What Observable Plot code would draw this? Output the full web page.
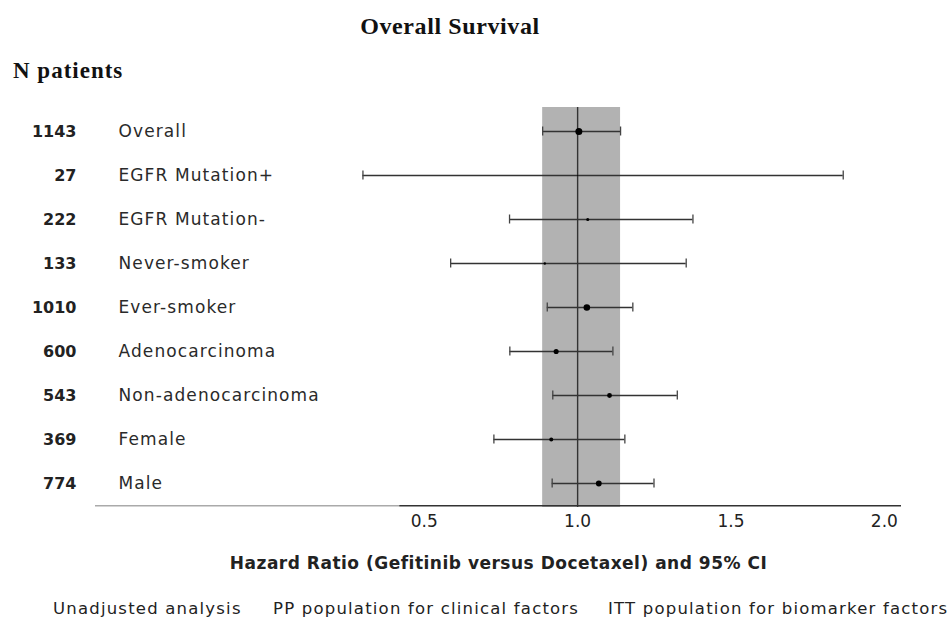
<!DOCTYPE html>
<html>
<head>
<meta charset="utf-8">
<script src="https://cdn.jsdelivr.net/npm/d3@7"></script>
<script src="https://cdn.jsdelivr.net/npm/@observablehq/plot@0.6"></script>
<style>
  body { margin: 0; background: #fff; }
  #wrap { position: relative; width: 947px; height: 626px; overflow: hidden; }
  #head { position: relative; height: 88px; }
  #title { position: absolute; left: 0; width: 900px; top: 13px; text-align: center;
           font: bold 24px "Liberation Serif", serif; letter-spacing: 0.6px; color: #111; }
  #npat { position: absolute; left: 13px; top: 58px; font: bold 23px "Liberation Serif", serif; letter-spacing: 1px; color: #111; }
  #legend { position: relative; height: 38px; font: 16.5px "DejaVu Sans", sans-serif; letter-spacing: 1.2px; color: #222; }
  #legend span { position: absolute; top: 11px; white-space: nowrap; }
  svg { display: block; }
</style>
</head>
<body>
<div id="wrap">
  <div id="head">
    <div id="title">Overall Survival</div>
    <div id="npat">N patients</div>
  </div>
  <div id="chart"></div>
  <div id="legend"></div>
</div>
<script>
const categories = ["Overall","EGFR Mutation+","EGFR Mutation-","Never-smoker","Ever-smoker","Adenocarcinoma","Non-adenocarcinoma","Female","Male"];
const nPatients = [1143, 27, 222, 133, 1010, 600, 543, 369, 774];
const hazardRatio = [1.004, 1.0, 1.033, 0.893, 1.03, 0.93, 1.104, 0.914, 1.069];
const ciLow = [0.886, 0.30, 0.778, 0.586, 0.901, 0.779, 0.919, 0.727, 0.917];
const ciHigh = [1.14, 1.866, 1.376, 1.354, 1.18, 1.115, 1.325, 1.154, 1.249];
const xTicks = [0.5, 1.0, 1.5, 2.0];
const legendItems = ["Unadjusted analysis", "PP population for clinical factors", "ITT population for biomarker factors"];
const xLabel = "Hazard Ratio (Gefitinib versus Docetaxel) and 95% CI";

const rows = categories.map((c, i) => ({label: c, n: nPatients[i], hr: hazardRatio[i], lo: ciLow[i], hi: ciHigh[i]}));
const band = [{lo: ciLow[0], hi: ciHigh[0]}];

const marginTop = 19, height = 500, marginBottom = 81;
const bandH = (height - marginTop - marginBottom) / categories.length;

const chart = Plot.plot({
  width: 947,
  height,
  marginLeft: 95,
  marginRight: 46,
  marginTop,
  marginBottom,
  style: {fontFamily: "DejaVu Sans, sans-serif", fontSize: "17px", color: "#222", background: "#fff"},
  x: {domain: [-0.572, 2.056], ticks: xTicks, tickFormat: d3.format(".1f"), tickSize: 0, tickPadding: 7,
      label: xLabel, labelAnchor: "center", labelOffset: 61, labelArrow: "none"},
  y: {domain: categories, padding: 0, axis: null},
  r: {domain: [0, 1143], range: [0, 3.5]},
  marks: [
    Plot.rect(band, {x1: "lo", x2: "hi", fill: "#b2b2b2"}),
    Plot.ruleX([1], {stroke: "#333", strokeWidth: 1.4}),
    Plot.ruleY([categories[categories.length - 1]], {y: d => d, x1: -0.572, x2: 0.42, dy: bandH / 2, stroke: "#aaa", strokeWidth: 1.5}),
    Plot.ruleY([categories[categories.length - 1]], {y: d => d, x1: 0.42, x2: 2.056, dy: bandH / 2, stroke: "#333", strokeWidth: 1.5}),
    Plot.ruleY(rows, {y: "label", x1: "lo", x2: "hi", stroke: "#333", strokeWidth: 1.3}),
    Plot.tickX(rows, {x: "lo", y: "label", insetTop: 17.5, insetBottom: 17.5, stroke: "#444", strokeWidth: 1.3}),
    Plot.tickX(rows, {x: "hi", y: "label", insetTop: 17.5, insetBottom: 17.5, stroke: "#444", strokeWidth: 1.3}),
    Plot.dot(rows, {x: "hr", y: "label", r: "n", fill: "#000", stroke: null}),
    Plot.text(rows, {y: "label", text: d => String(d.n), frameAnchor: "left", dx: -19, textAnchor: "end",
                     fontWeight: "bold", fontSize: 16, fill: "#222"}),
    Plot.text(rows, {y: "label", text: "label", frameAnchor: "left", dx: 23, textAnchor: "start",
                     fontSize: 17, fill: "#2a2a2a"})
  ]
});
chart.querySelectorAll('[aria-label="x-axis label"]').forEach(e => {
  e.setAttribute("font-weight", "bold");
  e.setAttribute("font-size", "17");
  e.setAttribute("letter-spacing", "0.5px");
});
chart.querySelectorAll('[aria-label="text"]').forEach((g, i) => {
  if (i === 1) g.querySelectorAll("text").forEach(t => t.setAttribute("letter-spacing", "1.1px"));
});
document.getElementById("chart").appendChild(chart);

const legendLefts = [53, 273, 608];
const leg = document.getElementById("legend");
legendItems.forEach((t, i) => {
  const s = document.createElement("span");
  s.textContent = t;
  s.style.left = legendLefts[i] + "px";
  leg.appendChild(s);
});
</script>
</body>
</html>
